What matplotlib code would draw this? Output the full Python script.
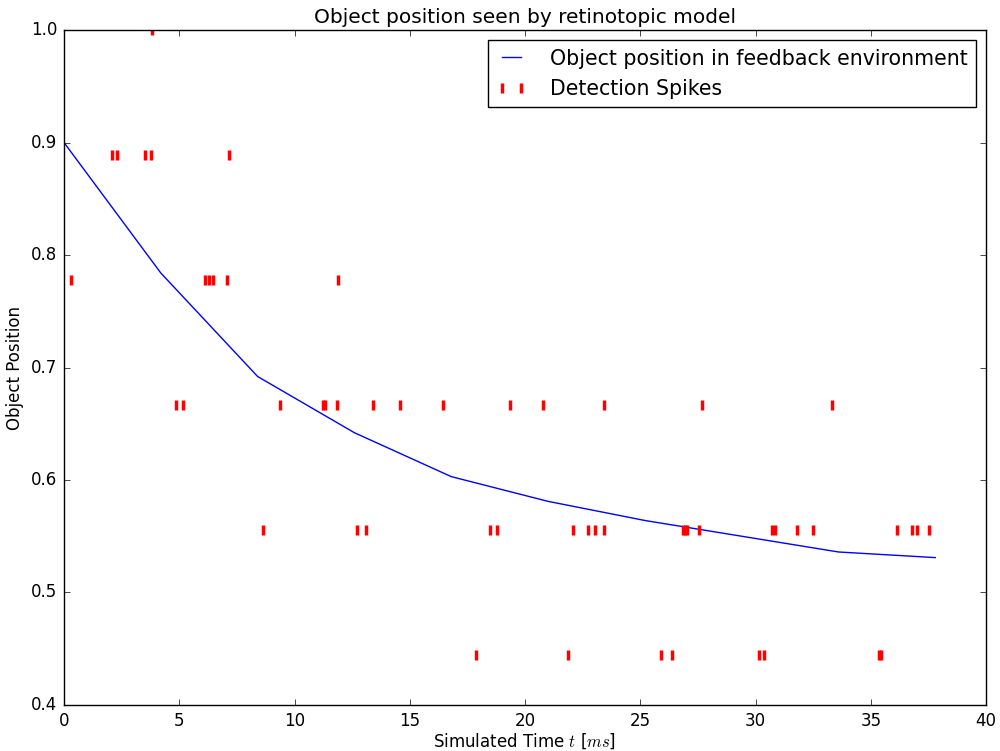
import matplotlib
matplotlib.use("Agg")
import matplotlib.pyplot as plt
import numpy as np

plt.style.use("classic")
plt.rcParams["mathtext.fontset"] = "cm"

# line: object position
t_line = [0, 4.2, 8.4, 12.6, 16.8, 21.0, 25.2, 29.4, 33.6, 37.8]
pos_line = [0.9, 0.784, 0.692, 0.642, 0.603, 0.581, 0.564, 0.550, 0.536, 0.531]

# detection spikes, grouped by level
lvl_1000 = [3.82]
lvl_889 = [2.08, 2.30, 3.51, 3.77, 7.16]
lvl_778 = [0.30, 6.12, 6.29, 6.46, 7.07, 11.89]
lvl_667 = [4.86, 5.16, 9.37, 11.24, 11.32, 11.84, 13.41, 14.58, 16.44,
           19.35, 20.78, 23.43, 27.68, 33.32]
lvl_556 = [8.65, 12.72, 13.09, 18.48, 18.80, 22.07, 22.72, 23.04, 23.44,
           26.87, 26.95, 27.02, 27.55, 30.73, 30.86, 31.79, 32.51, 36.15,
           36.78, 37.01, 37.54]
lvl_444 = [17.86, 21.88, 25.91, 26.39, 30.14, 30.37, 35.35, 35.45]

spike_t = lvl_1000 + lvl_889 + lvl_778 + lvl_667 + lvl_556 + lvl_444
spike_y = ([9 / 9] * len(lvl_1000) + [8 / 9] * len(lvl_889) + [7 / 9] * len(lvl_778)
           + [6 / 9] * len(lvl_667) + [5 / 9] * len(lvl_556) + [4 / 9] * len(lvl_444))

fig = plt.figure(figsize=(10, 7.51), dpi=100, facecolor="white")
ax = fig.add_axes([0.064, 0.0613, 0.922, 0.8987])

ax.plot(t_line, pos_line, color="b", lw=1, label="Object position in feedback environment")
ax.plot(spike_t, spike_y, "r|", ms=7, mew=2.5, label="Detection Spikes")

ax.set_xlim(0, 40)
ax.set_ylim(0.4, 1.0)
ax.tick_params(labelsize=12, pad=5)
ax.set_xlabel("Simulated Time $t$ [$ms$]", fontsize=12, labelpad=1)
ax.set_ylabel("Object Position", fontsize=12)
ax.set_title("Object position seen by retinotopic model", fontsize=14.5)
ax.legend(loc="upper right", fontsize=14.8, numpoints=2, handlelength=1.5,
          handletextpad=1.1)

fig.savefig("out.png", dpi=100, facecolor="white")
